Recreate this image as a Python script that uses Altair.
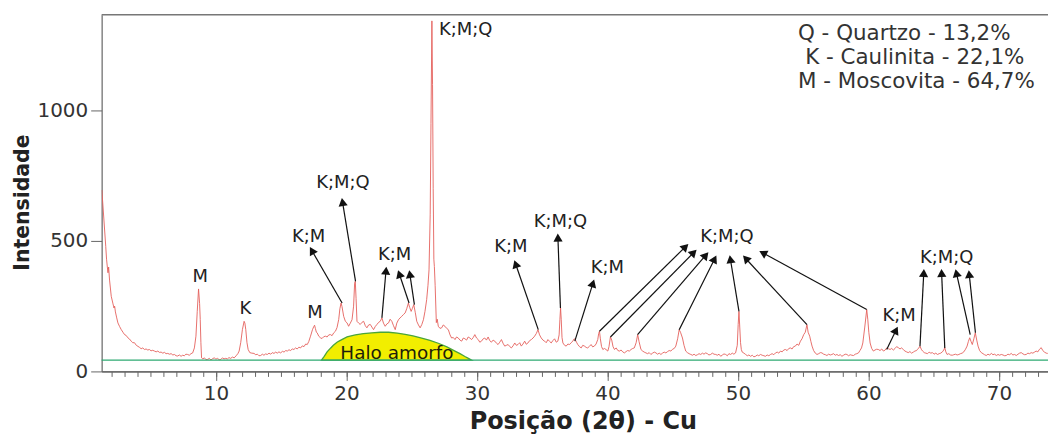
import math
import altair as alt
import pandas as pd

# ---------------- data ----------------
POS = [1.26,1.42,1.56,1.62,1.68,1.73,1.78,1.85,1.98,2.1,2.19,2.24,2.3,2.4,2.49,2.62,2.75,2.88,3.0,3.12,
3.25,3.38,3.51,3.63,3.76,3.9,4.03,4.15,4.27,4.4,4.52,4.65,4.78,4.9,5.03,5.16,5.29,5.42,5.55,5.67,
5.8,5.93,6.06,6.18,6.31,6.44,6.57,6.7,6.82,6.95,7.07,7.2,7.33,7.45,7.58,7.7,7.83,7.96,8.09,8.22,
8.35,8.47,8.57,8.67,8.75,8.8,8.85,8.9,9.0,9.12,9.24,9.36,9.5,9.62,9.75,9.87,10.0,10.12,10.25,10.38,
10.5,10.62,10.75,10.89,11.0,11.13,11.27,11.4,11.55,11.68,11.78,11.9,12.03,12.16,12.22,12.29,12.38,12.47,12.6,12.75,
12.92,13.05,13.18,13.3,13.43,13.56,13.68,13.81,13.94,14.07,14.2,14.32,14.45,14.58,14.7,14.83,14.96,15.1,15.22,15.35,
15.47,15.6,15.72,15.85,15.98,16.1,16.23,16.36,16.49,16.62,16.75,16.88,17.0,17.12,17.25,17.4,17.5,17.56,17.62,17.7,
17.76,17.88,18.01,18.13,18.26,18.39,18.52,18.65,18.78,18.9,19.03,19.16,19.28,19.41,19.5,19.59,19.66,19.79,19.92,20.05,
20.17,20.3,20.43,20.55,20.63,20.68,20.74,20.81,20.94,21.06,21.19,21.32,21.45,21.57,21.7,21.83,21.95,22.08,22.21,22.34,
22.47,22.59,22.72,22.84,22.97,23.1,23.23,23.35,23.48,23.61,23.74,23.86,23.99,24.11,24.24,24.37,24.5,24.62,24.75,24.85,
24.96,25.06,25.16,25.28,25.39,25.52,25.65,25.78,25.9,26.02,26.15,26.25,26.33,26.42,26.48,26.55,26.6,26.65,26.7,26.74,
26.8,26.89,26.96,27.04,27.17,27.3,27.42,27.55,27.68,27.81,27.94,28.06,28.19,28.32,28.44,28.57,28.7,28.83,28.96,29.08,
29.21,29.33,29.46,29.59,29.72,29.84,29.97,30.1,30.22,30.35,30.48,30.6,30.73,30.86,30.98,31.11,31.24,31.37,31.5,31.62,
31.75,31.88,32.0,32.13,32.26,32.39,32.52,32.64,32.77,32.9,33.02,33.15,33.28,33.4,33.53,33.66,33.78,33.91,34.04,34.17,
34.3,34.42,34.55,34.68,34.8,34.93,35.06,35.19,35.31,35.44,35.57,35.69,35.82,35.95,36.08,36.2,36.3,36.36,36.41,36.46,
36.52,36.59,36.72,36.84,36.97,37.1,37.22,37.35,37.45,37.53,37.63,37.73,37.86,37.99,38.11,38.24,38.37,38.49,38.62,38.75,
38.87,39.0,39.13,39.26,39.33,39.39,39.46,39.55,39.65,39.77,39.89,40.03,40.12,40.23,40.33,40.43,40.54,40.67,40.8,40.92,
41.05,41.17,41.3,41.43,41.55,41.68,41.81,41.94,42.06,42.2,42.32,42.42,42.57,42.7,42.82,42.95,43.08,43.2,43.33,43.46,
43.59,43.72,43.84,43.97,44.1,44.22,44.35,44.48,44.61,44.73,44.86,44.99,45.12,45.24,45.38,45.5,45.6,45.75,45.87,46.0,
46.13,46.26,46.39,46.52,46.64,46.77,46.9,47.02,47.15,47.28,47.4,47.53,47.66,47.78,47.91,48.04,48.17,48.3,48.42,48.55,
48.68,48.81,48.93,49.06,49.19,49.31,49.44,49.57,49.69,49.82,49.95,50.02,50.08,50.14,50.2,50.26,50.33,50.46,50.59,50.72,
50.84,50.97,51.1,51.22,51.35,51.48,51.6,51.73,51.86,51.99,52.11,52.24,52.37,52.5,52.62,52.75,52.88,53.01,53.13,53.26,
53.39,53.51,53.64,53.77,53.9,54.02,54.15,54.27,54.4,54.53,54.66,54.79,54.91,55.04,55.16,55.29,55.38,55.5,55.59,55.68,
55.8,55.93,56.06,56.19,56.31,56.44,56.57,56.7,56.82,56.95,57.08,57.2,57.33,57.46,57.58,57.71,57.84,57.97,58.09,58.22,
58.35,58.48,58.6,58.73,58.86,58.99,59.11,59.24,59.35,59.47,59.57,59.72,59.87,59.95,60.03,60.13,60.25,60.38,60.5,60.63,
60.76,60.89,61.02,61.15,61.28,61.4,61.53,61.66,61.78,61.91,62.04,62.16,62.29,62.42,62.54,62.67,62.8,62.92,63.05,63.18,
63.31,63.44,63.56,63.69,63.74,63.87,63.95,64.05,64.15,64.28,64.4,64.53,64.65,64.78,64.91,65.03,65.16,65.29,65.42,65.54,
65.67,65.77,65.85,65.93,66.03,66.16,66.29,66.42,66.54,66.67,66.8,66.93,67.05,67.18,67.31,67.44,67.56,67.66,67.76,67.86,
67.96,68.08,68.19,68.3,68.4,68.52,68.65,68.78,68.9,69.03,69.16,69.29,69.42,69.54,69.67,69.8,69.93,70.05,70.18,70.31,
70.44,70.56,70.69,70.82,70.94,71.07,71.2,71.33,71.46,71.58,71.71,71.84,71.97,72.09,72.22,72.35,72.47,72.6,72.73,72.85,
72.98,73.11,73.24,73.36,73.49,73.62,73.74]

INTENSITY = [695,580,478,430,400,378,400,350,288,262,243,250,228,205,186,172,160,150,141,138,
129,124,116,110,110,100,96,92,87,90,84,86,82,84,79,81,78,75,78,73,
74,70,73,68,69,66,68,63,65,60,59,63,58,62,60,66,65,62,68,71,
90,135,230,316,260,199,110,52,48,52,45,46,50,44,49,52,47,50,45,46,
52,48,50,48,53,50,55,52,60,68,78,110,160,192,185,160,110,84,72,70,
69,64,66,60,61,66,62,67,65,70,66,72,69,74,70,75,71,77,74,80,
78,83,80,86,84,90,86,93,90,98,95,105,103,115,135,160,172,177,165,150,
148,135,129,126,133,135,132,140,141,137,148,154,168,199,240,262,249,211,192,186,
173,185,198,250,338,345,280,192,185,180,188,192,175,167,178,180,170,160,172,180,
188,192,205,185,173,182,186,200,192,175,160,185,198,205,211,218,224,240,262,245,
230,242,256,225,192,178,167,180,198,230,275,330,389,600,950,1343,1100,700,430,402,
330,187,200,173,165,167,178,173,165,160,140,128,130,122,132,128,120,116,128,125,
120,132,128,122,130,141,128,122,112,116,125,128,120,132,118,112,120,116,108,103,
112,122,108,97,100,103,95,90,98,109,100,103,110,97,105,116,104,109,118,122,
128,135,145,160,140,128,120,116,110,122,115,109,118,125,112,116,140,200,243,200,
130,109,100,97,105,103,110,116,125,122,112,103,95,90,100,97,92,90,96,103,
94,97,105,122,145,154,125,95,84,88,84,78,95,132,120,95,84,90,80,78,
82,75,71,76,80,78,84,88,90,110,141,115,84,78,74,71,68,72,65,70,
74,71,66,70,65,70,74,71,76,80,78,85,88,97,125,160,150,128,100,78,
72,68,65,62,66,61,64,68,65,70,66,71,68,63,65,70,66,65,62,66,
58,63,67,65,60,68,65,70,66,71,100,180,230,170,110,84,74,70,65,60,
63,58,62,56,58,63,60,65,62,60,58,63,60,65,68,64,71,74,70,78,
75,82,84,80,88,90,86,95,97,105,100,116,125,141,150,179,150,135,115,97,
80,70,65,68,72,71,66,64,61,66,63,65,68,62,65,61,64,58,62,66,
65,60,64,62,61,66,68,71,80,90,109,170,237,200,150,109,88,78,82,85,
84,80,86,78,82,90,87,84,88,82,88,95,91,86,90,84,78,75,72,76,
70,74,78,80,84,90,97,85,78,72,70,68,74,70,72,66,70,65,68,70,
75,82,91,75,65,68,63,62,64,66,63,65,68,70,75,85,97,115,129,115,
103,125,148,120,97,80,72,68,64,61,66,63,69,64,66,61,65,62,65,63,
60,61,66,64,69,63,65,61,66,70,72,67,64,65,70,68,72,70,74,78,
75,85,91,80,74,70,69]

BASELINE = 43

HALO_X = [18.09,18.3,18.52,18.8,19.0,19.28,19.5,20.05,20.68,21.3,21.95,22.6,23.23,23.9,24.5,25.1,25.77,26.4,27.04,27.7,28.32,28.7,29.08,29.35,29.59]
HALO_Y = [43,58,75,90,100,112,118,132,140,145,148,150,150,147,142,136,128,119,108,94,78,68,57,50,43]

# label text, x, y (centre)
LABEL_TEXT = ["M","K","M","K;M","K;M;Q","K;M","K;M","K;M;Q","K;M","K;M;Q","K;M","K;M;Q"]
LABEL_X = [8.8,12.25,17.6,17.1,19.74,23.7,32.6,36.4,40.0,49.16,62.35,66.0]
LABEL_Y = [362,240,225,515,721,447,478,574,396,516,211,436]

TOP_LABEL = "K;M;Q"
TOP_LABEL_X = 27.1
TOP_LABEL_Y = 1309

# arrows: from peak (x, y) to tip (x, y)
ARROW_FROM_X = [19.67,20.7,22.72,24.8,25.21,34.7,36.4,37.5,39.39,40.23,42.31,45.5,50.08,55.29,59.87,61.4,63.95,65.85,67.8,68.2]
ARROW_FROM_Y = [262,345,205,262,256,160,243,116,154,132,141,160,230,179,237,84,97,90,141,148]
ARROW_TO_X = [17.25,19.67,23.05,23.99,24.83,32.9,36.2,38.95,46.13,46.76,47.67,48.3,49.39,50.46,51.73,62.2,64.25,65.6,66.7,67.7]
ARROW_TO_Y = [472,659,396,383,383,421,523,347,485,463,453,440,440,440,459,167,387,387,387,383]

LEGEND_LINES = ["Q - Quartzo - 13,2%", "K - Caulinita - 22,1%", "M - Moscovita - 64,7%"]
LEGEND_X = [54.6, 55.15, 54.6]
LEGEND_Y = [1294, 1202, 1107]

HALO_TEXT = "Halo amorfo"
HALO_TEXT_X = 23.87
HALO_TEXT_Y = 69

MAJOR_TICKS = [10, 20, 30, 40, 50, 60, 70]
MINOR_TICKS = list(range(2, 74))
Y_TICKS = [0, 500, 1000]

# ---------------- layout ----------------
X_MIN, X_MAX = 1.244, 73.76
Y_MAX = 1366.4
W, H = 950, 358
SX = W / (X_MAX - X_MIN)
SY = H / Y_MAX
FONT = "DejaVu Sans"

curve_df = pd.DataFrame({"pos": POS, "int": INTENSITY})
halo_df = pd.DataFrame({"pos": HALO_X, "int": HALO_Y, "base": [BASELINE] * len(HALO_X)})
labels_df = pd.DataFrame({"t": LABEL_TEXT, "x": LABEL_X, "y": LABEL_Y})
top_df = pd.DataFrame({"t": [TOP_LABEL], "x": [TOP_LABEL_X], "y": [TOP_LABEL_Y]})
legend_df = pd.DataFrame({"t": LEGEND_LINES, "x": LEGEND_X, "y": LEGEND_Y})
halo_text_df = pd.DataFrame({"t": [HALO_TEXT], "x": [HALO_TEXT_X], "y": [HALO_TEXT_Y]})

rows = []
for x1, y1, x2, y2 in zip(ARROW_FROM_X, ARROW_FROM_Y, ARROW_TO_X, ARROW_TO_Y):
    dxp = (x2 - x1) * SX
    dyp = -(y2 - y1) * SY
    L = math.hypot(dxp, dyp)
    ux, uy = dxp / L, dyp / L
    ang = math.degrees(math.atan2(dxp, -dyp)) % 360
    hx = x2 - 4 * ux / SX
    hy = y2 + 4 * uy / SY
    rows.append({"x1": x1, "y1": y1, "x2": hx, "y2": hy, "hx": hx, "hy": hy, "ang": ang})
arrows_df = pd.DataFrame(rows)

xs = alt.Scale(domain=[X_MIN, X_MAX], nice=False, zero=False)
ys = alt.Scale(domain=[0, Y_MAX], nice=False, zero=True)

x_axis = alt.Axis(
    values=MAJOR_TICKS, orient="bottom",
    tickSize=9, tickColor="#666", domain=True, domainColor="#666", tickWidth=1, domainWidth=1.2,
    labelFont=FONT, labelFontSize=20, labelColor="#333", labelPadding=3,
    labelFlush=False, grid=False, format="d",
    title="Posição (2θ) - Cu", titleFont=FONT, titleFontSize=24, titleFontWeight="bold",
    titleColor="#222", titleX=483, titleY=57, titleBaseline="alphabetic", titleAlign="center",
)
x_minor_axis = alt.Axis(
    values=MINOR_TICKS, orient="bottom", labels=False, domain=True, domainColor="#666",
    domainWidth=1.2, grid=False, tickSize=5, tickColor="#666", tickWidth=1, title=None,
)
y_axis = alt.Axis(
    values=Y_TICKS, tickSize=11, tickColor="#666", domain=True, domainColor="#666", domainWidth=1.2,
    labelFont=FONT, labelFontSize=20, labelColor="#333", labelPadding=3, grid=False, format="d",
    title="Intensidade", titleFont=FONT, titleFontSize=20.5, titleFontWeight="bold",
    titleColor="#222", titleX=-79, titleY=188, titleAngle=270, titleBaseline="middle",
    titleAlign="center",
)

halo = alt.Chart(halo_df).mark_area(color="#f2ee00", stroke="#4aa53a", strokeWidth=1.3).encode(
    x=alt.X("pos:Q", scale=xs, axis=x_axis),
    y=alt.Y("int:Q", scale=ys, axis=y_axis),
    y2="base:Q",
)
baseline = alt.Chart(pd.DataFrame({"b": [BASELINE]})).mark_rule(color="#2eaa72", strokeWidth=1.3).encode(
    y=alt.Y("b:Q", scale=ys, axis=y_axis)
)
top_line = alt.Chart(pd.DataFrame({"t": [Y_MAX]})).mark_rule(color="#777", strokeWidth=1.5).encode(
    y=alt.Y("t:Q", scale=ys, axis=y_axis)
)
curve = alt.Chart(curve_df).mark_line(color="#e4605c", strokeWidth=0.9, clip=True).encode(
    x=alt.X("pos:Q", scale=xs, axis=x_minor_axis), y=alt.Y("int:Q", scale=ys, axis=y_axis)
)
halo_text = alt.Chart(halo_text_df).mark_text(font=FONT, fontSize=18.5, color="#1e1e0a").encode(
    x=alt.X("x:Q", scale=xs, axis=None), y=alt.Y("y:Q", scale=ys, axis=y_axis), text="t:N"
)
shafts = alt.Chart(arrows_df).mark_rule(color="#111", strokeWidth=1.2).encode(
    x=alt.X("x1:Q", scale=xs, axis=None), y=alt.Y("y1:Q", scale=ys, axis=y_axis), x2="x2:Q", y2="y2:Q"
)
heads = alt.Chart(arrows_df).mark_point(shape="triangle", filled=True, color="#111", size=85, opacity=1).encode(
    x=alt.X("hx:Q", scale=xs, axis=None), y=alt.Y("hy:Q", scale=ys, axis=y_axis),
    angle=alt.Angle("ang:Q", scale=None)
)
labels = alt.Chart(labels_df).mark_text(font=FONT, fontSize=18, color="#222").encode(
    x=alt.X("x:Q", scale=xs, axis=None), y=alt.Y("y:Q", scale=ys, axis=y_axis), text="t:N"
)
top_label = alt.Chart(top_df).mark_text(font=FONT, fontSize=18, color="#222", align="left").encode(
    x=alt.X("x:Q", scale=xs, axis=None), y=alt.Y("y:Q", scale=ys, axis=y_axis), text="t:N"
)
legend = alt.Chart(legend_df).mark_text(font=FONT, fontSize=21.5, color="#333", align="left").encode(
    x=alt.X("x:Q", scale=xs, axis=None), y=alt.Y("y:Q", scale=ys, axis=y_axis), text="t:N"
)

chart = alt.layer(
    halo, curve, baseline, top_line, halo_text, shafts, heads, labels, top_label, legend
).resolve_axis(x="independent").properties(
    width=W, height=H,
    autosize=alt.AutoSizeParams(type="none"),
    padding={"left": 94, "top": 6, "right": 0, "bottom": 62},
    background="white",
).configure_view(stroke=None)

chart.save("out.html", embed_options={"renderer": "svg", "actions": False})
